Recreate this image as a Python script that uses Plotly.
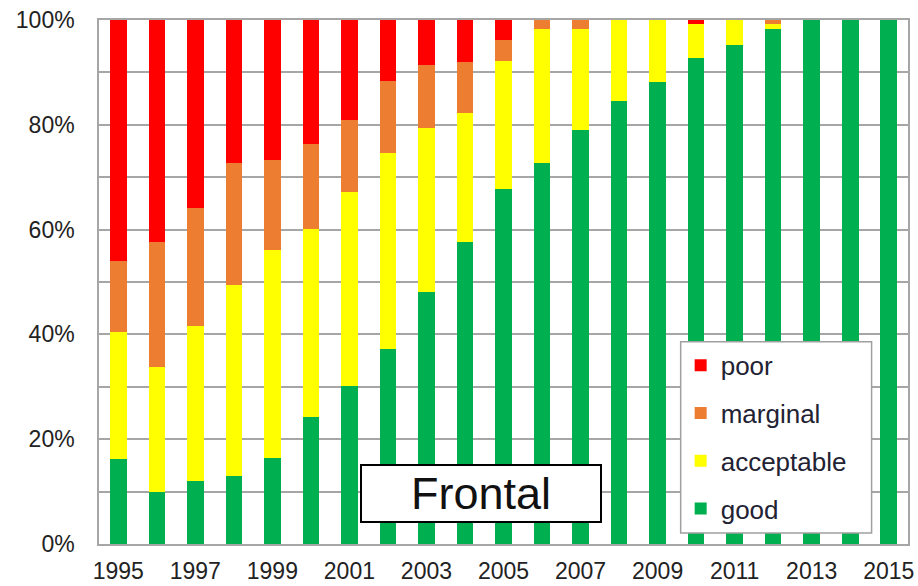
import plotly.graph_objects as go

# Share of rated vehicles per frontal-crash rating, by model year (percent)
years = list(range(1995, 2016))
good = [16.2, 10.0, 12.0, 13.0, 16.5, 24.2, 30.2, 37.3, 48.0, 57.6, 67.8,
        72.8, 79.0, 84.6, 88.1, 92.7, 95.2, 98.2, 100, 100, 100]
acceptable = [24.3, 23.7, 29.6, 36.4, 39.7, 36.0, 36.9, 37.3, 31.4, 24.6, 24.4,
              25.4, 19.2, 15.4, 11.9, 6.5, 4.8, 1.0, 0, 0, 0]
marginal = [13.5, 23.9, 22.6, 23.4, 17.0, 16.1, 13.9, 13.8, 12.1, 9.8, 3.9,
            1.8, 1.8, 0, 0, 0, 0, 0.8, 0, 0, 0]
poor = [46.0, 42.4, 35.8, 27.2, 26.8, 23.7, 19.0, 11.6, 8.5, 8.0, 3.9,
        0, 0, 0, 0, 0.8, 0, 0, 0, 0, 0]

x_ticks = list(range(1995, 2016, 2))
# gridlines every 10 %, labels every 20 %
y_grid = list(range(0, 101, 10))
y_labels = [f"{v}%" if v % 20 == 0 else "" for v in y_grid]

series = [
    ("good", good, "#00B050", 4),
    ("acceptable", acceptable, "#FFFF00", 3),
    ("marginal", marginal, "#ED7D31", 2),
    ("poor", poor, "#FF0000", 1),
]

FONT = "Liberation Sans, Arial, sans-serif"
GRID = "#A6A6A6"

fig = go.Figure()
for name, vals, color, rank in series:
    fig.add_trace(go.Bar(
        x=years, y=vals, name=name, legendgroup=name, legendrank=rank,
        marker=dict(color=color, line=dict(width=0)),
        width=0.43,
    ))

# framed panel behind the legend entries (wider than the auto-sized legend)
fig.add_shape(
    type="rect", xref="paper", yref="paper",
    x0=0.719, x1=0.955, y0=0.021, y1=0.386,
    fillcolor="white", line=dict(color="#A0A0A0", width=1.5),
    layer="above",
)

fig.update_layout(
    barmode="stack",
    width=918, height=586,
    margin=dict(l=99, r=10, t=20, b=42),
    paper_bgcolor="white",
    plot_bgcolor="white",
    font=dict(family=FONT, size=23, color="#222222"),
    showlegend=True,
    legend=dict(
        x=0.719, y=0.386, xanchor="left", yanchor="top",
        traceorder="grouped",
        tracegroupgap=11,
        bgcolor="rgba(0,0,0,0)",
        borderwidth=0,
        font=dict(family=FONT, size=26, color="#222233"),
        itemwidth=30,
    ),
    xaxis=dict(
        range=[1994.5, 2015.5],
        tickmode="array",
        tickvals=x_ticks,
        ticktext=[str(v) for v in x_ticks],
        showgrid=False,
        showline=True, linecolor=GRID, linewidth=1.5, mirror=True,
        ticks="", ticklabelstandoff=6,
        zeroline=False, automargin=False,
    ),
    yaxis=dict(
        range=[0, 100],
        tickmode="array",
        tickvals=y_grid,
        ticktext=y_labels,
        showgrid=True, gridcolor=GRID, gridwidth=1.5,
        showline=True, linecolor=GRID, linewidth=1.5, mirror=True,
        ticks="", ticklabelstandoff=18,
        zeroline=False, automargin=False,
    ),
)

fig.add_annotation(
    text="Frontal",
    xref="paper", yref="paper",
    x=0.472, y=0.0964, xanchor="center", yanchor="middle",
    showarrow=False,
    font=dict(family=FONT, size=45, color="#111111"),
    bgcolor="white", bordercolor="#000000", borderwidth=2,
    width=236, height=53, borderpad=1,
)

fig.write_html("out.html")
